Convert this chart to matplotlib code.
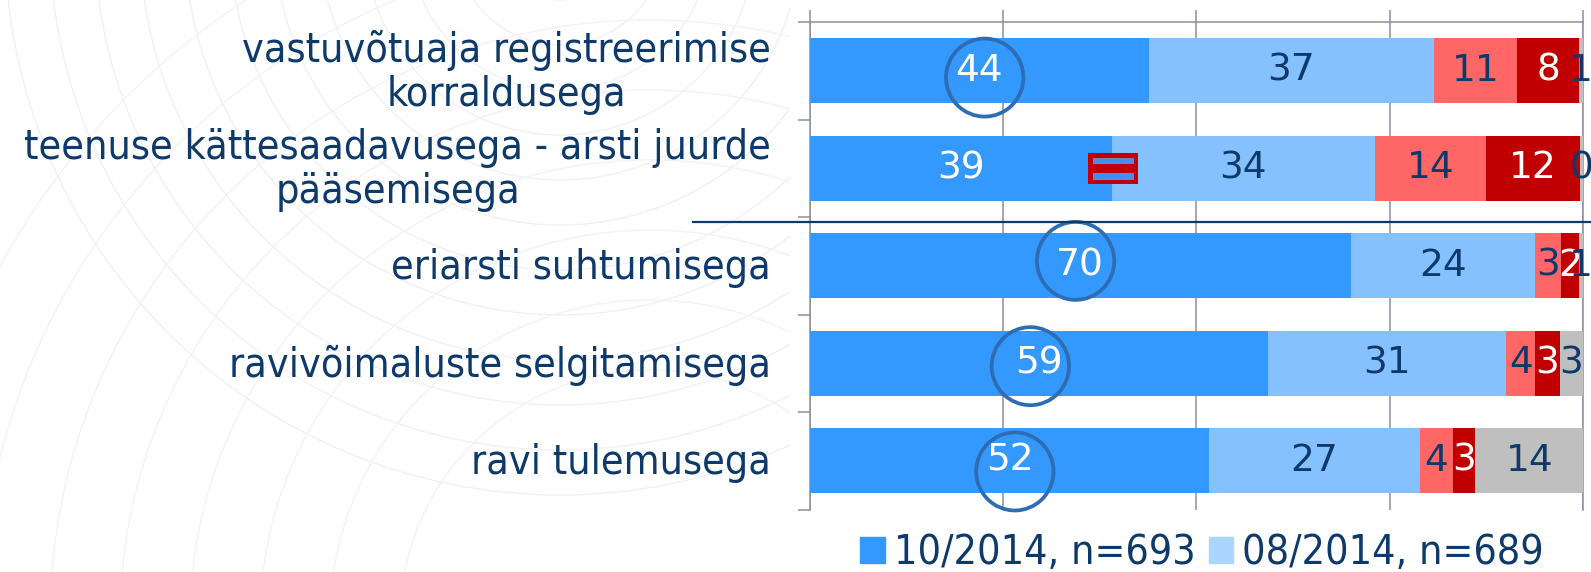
import matplotlib
matplotlib.use("Agg")
import matplotlib.pyplot as plt
from matplotlib.patches import Ellipse, Rectangle, Patch, Circle
from matplotlib.lines import Line2D
from matplotlib import font_manager as fm
import numpy as np

# ---------------- data ----------------
categories = [
    "vastuvõtuaja registreerimise\nkorraldusega",
    "teenuse kättesaadavusega - arsti juurde\npääsemisega",
    "eriarsti suhtumisega",
    "ravivõimaluste selgitamisega",
    "ravi tulemusega",
]
seg1 = [43.9, 39.1, 70.0, 59.3, 51.7]   # dark blue
seg2 = [36.8, 34.0, 23.8, 30.8, 27.2]   # light blue
seg3 = [10.8, 14.4, 3.3, 3.7, 4.3]      # salmon
seg4 = [8.0, 12.1, 2.4, 3.2, 2.9]       # dark red
seg5 = [0.5, 0.4, 0.5, 3.0, 13.9]       # gray

lab1 = ["44", "39", "70", "59", "52"]
lab2 = ["37", "34", "24", "31", "27"]
lab3 = ["11", "14", "3", "4", "4"]
lab4 = ["8", "12", "2", "3", "3"]
lab5 = ["1", "0", "1", "3", "14"]

legend_labels = ["10/2014, n=693", "08/2014, n=689"]

# ---------------- fonts ----------------
cond_fp = fm.FontProperties(family="DejaVu Sans", stretch="condensed")
try:
    cond_file = fm.findfont(cond_fp, fallback_to_default=False)
except Exception:
    cond_file = ""
if "Condensed" in cond_file:
    TXT = dict(family="DejaVu Sans", fontstretch="condensed")
    FS_LAB, FS_LEG = 29.5, 29.5
else:
    TXT = dict(family="DejaVu Sans")
    FS_LAB, FS_LEG = 27.0, 27.0
FS_NUM = 27.0

# ---------------- style ----------------
NAVY = "#0E3A6B"
GRID = "#8B8E9E"
colors = ["#3399FF", "#86C1FF", "#FF6666", "#C00000", "#BFBFBF"]
text_colors = ["white", NAVY, NAVY, "white", NAVY]
legend_colors = ["#3399FF", "#ABD5FF"]

W, H = 1591, 572
fig = plt.figure(figsize=(W / 100, H / 100), dpi=100)

# faint decorative background arcs (left part only)
bg = fig.add_axes([0, 0, 1, 1], zorder=-5)
bg.set_xlim(0, W)
bg.set_ylim(H, 0)
bg.axis("off")
clip = Rectangle((0, 0), 790, H, transform=bg.transData, visible=False)
bg.add_patch(clip)
for r in np.arange(60, 560, 45):
    c = bg.add_patch(Circle((560, -60), r, fill=False, ec="#F1F1F4", lw=1.0))
    c.set_clip_path(clip)
for r in np.arange(250, 800, 70):
    c = bg.add_patch(Circle((650, 620), r, fill=False, ec="#F3F3F6", lw=1.0))
    c.set_clip_path(clip)

left, right = 809.5 / W, 1583 / W
top, bottom = 1 - 22 / H, 1 - 509.5 / H
ax = fig.add_axes([left, bottom, right - left, top - bottom])
ax.patch.set_facecolor("white")

y = np.arange(len(categories))
series = [seg1, seg2, seg3, seg4, seg5]
labels = [lab1, lab2, lab3, lab4, lab5]
starts = np.zeros(len(categories))
bar_h = 0.667
for vals, labs, c, tc in zip(series, labels, colors, text_colors):
    vals = np.array(vals)
    ax.barh(y, vals, left=starts, height=bar_h, color=c, edgecolor="none", zorder=3)
    for yi, (s, v, lb) in enumerate(zip(starts, vals, labs)):
        ax.text(s + v / 2, yi, lb, ha="center", va="center", color=tc,
                fontsize=FS_NUM, zorder=5, clip_on=False)
    starts = starts + vals

ax.set_xlim(0, 100)
ax.set_ylim(len(categories) - 0.5, -0.5)

# axes styling
ax.set_xticks([0, 25, 50, 75, 100])
ax.xaxis.tick_top()
ax.tick_params(axis="x", direction="out", length=8.6, width=1.1, color=GRID,
               labeltop=False, labelbottom=False)
ax.grid(axis="x", color=GRID, lw=1.1, zorder=0)
ax.set_axisbelow(True)
ax.set_yticks(np.arange(-0.5, len(categories), 1.0))
ax.tick_params(axis="y", direction="out", length=8.6, width=1.1, color=GRID,
               labelleft=False)
for sp in ["top", "left", "right"]:
    ax.spines[sp].set_color(GRID)
    ax.spines[sp].set_linewidth(1.1)
ax.spines["bottom"].set_visible(False)

# category labels
for yi, cat in enumerate(categories):
    ax.text(-4.98, yi + 0.02, cat, ha="right", va="center", multialignment="center",
            color=NAVY, fontsize=FS_LAB, linespacing=1.14, clip_on=False, **TXT)

# circles highlighting values
circled = {0: (0.7, 0.07), 2: (-0.6, -0.05), 3: (-1.1, 0.03), 4: (0.7, 0.11)}
for row, (dx, dy) in circled.items():
    cx = seg1[row] / 2 + dx
    ax.add_patch(Ellipse((cx, row + dy), width=10.0, height=0.80, fill=False,
                         ec="#2E6DB4", lw=2.7, zorder=6, clip_on=False))

# "=" marker on row 2
mx, my = seg1[1] + 0.15, 1.0
ax.add_patch(Rectangle((mx - 3.23, my - 0.16), 6.46, 0.32, fc="#C00000",
                       ec="none", zorder=6))
for off in (-0.08, 0.082):
    ax.add_patch(Rectangle((mx - 2.55, my + off - 0.03), 5.1, 0.06, fc="#3D8FF2",
                           ec="#7A9CC8", lw=0.5, zorder=7))

# separator line
fig.add_artist(Line2D([693 / W, 1.0], [1 - 222 / H, 1 - 222 / H], color=NAVY, lw=1.6))

# legend
leg_fp = fm.FontProperties(size=FS_LEG, family="DejaVu Sans",
                           stretch=TXT.get("fontstretch", "normal"))
handles = [Patch(color=c) for c in legend_colors]
fig.legend(handles, legend_labels, loc="center left",
           bbox_to_anchor=(860 / W, 1 - 553 / H), ncol=2, frameon=False,
           prop=leg_fp, handlelength=0.6, handleheight=0.6,
           handletextpad=0.22, columnspacing=0.33, borderpad=0,
           borderaxespad=0, labelcolor=NAVY)

fig.savefig("out.png", dpi=100)
